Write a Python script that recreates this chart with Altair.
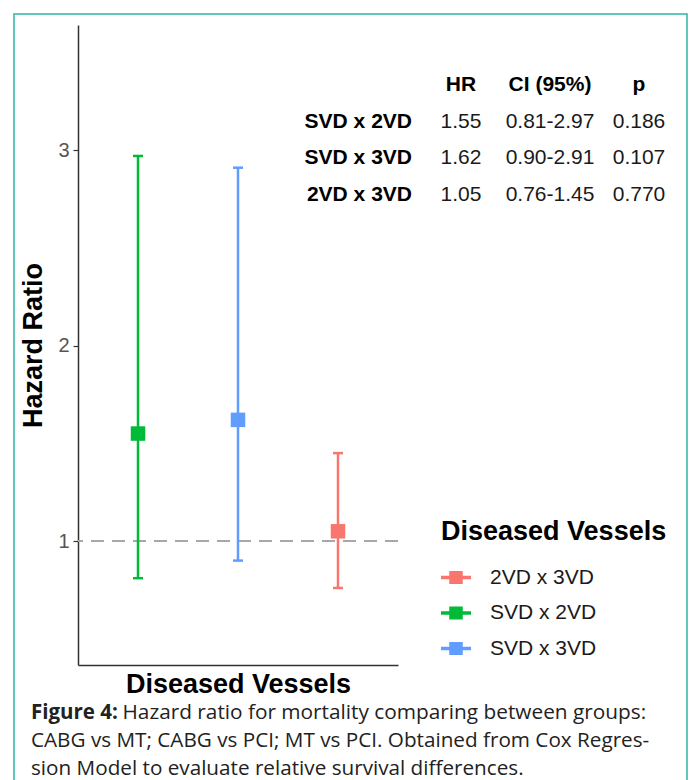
import altair as alt
import pandas as pd

# ---- data ----
comparisons = ["SVD x 2VD", "SVD x 3VD", "2VD x 3VD"]
hr = [1.55, 1.62, 1.05]
ci_low = [0.81, 0.90, 0.76]
ci_high = [2.97, 2.91, 1.45]
p_values = ["0.186", "0.107", "0.770"]
table_headers = ["HR", "CI (95%)", "p"]
legend_order = ["2VD x 3VD", "SVD x 2VD", "SVD x 3VD"]
legend_colors = ["#F8766D", "#00BA38", "#619CFF"]
caption_bold = "Figure 4:"
caption_lines = [
    "Hazard ratio for mortality comparing between groups:",
    "CABG vs MT; CABG vs PCI; MT vs PCI. Obtained from Cox Regres-",
    "sion Model to evaluate relative survival differences.",
]

FONT = "Liberation Sans"
CAP_FONT = "Open Sans"
TITLE_SIZE = 27

df = pd.DataFrame({"comp": comparisons, "hr": hr, "lo": ci_low, "hi": ci_high})

xenc = alt.X("comp:N", sort=comparisons,
             scale=alt.Scale(type="point", padding=0.6),
             axis=alt.Axis(title="Diseased Vessels", labels=False, ticks=False,
                           domainColor="#333333", domainWidth=1.5, grid=False,
                           titleFont=FONT, titleFontSize=TITLE_SIZE, titleFontWeight="bold",
                           titleColor="black", titlePadding=6))
yscale = alt.Scale(domain=[0.366, 3.64], nice=False, zero=False)
yenc = alt.Y("lo:Q", scale=yscale,
             axis=alt.Axis(title="Hazard Ratio", values=[1, 2, 3], format="d",
                           grid=False, domainColor="#333333", domainWidth=1.5,
                           tickColor="#333333", tickSize=5, tickWidth=1.2,
                           labelFont=FONT, labelFontSize=20, labelColor="#555555",
                           labelPadding=4,
                           titleFont=FONT, titleFontSize=TITLE_SIZE, titleFontWeight="bold",
                           titleColor="black", titlePadding=10))
color = alt.Color("comp:N",
                  scale=alt.Scale(domain=legend_order, range=legend_colors),
                  legend=alt.Legend(title="Diseased Vessels", orient="none",
                                    legendX=363, legendY=494,
                                    symbolType="M-1,-0.12H1V0.12H-1Z M-0.45,-0.43H0.45V0.43H-0.45Z",
                                    symbolSize=900, symbolStrokeWidth=0, symbolOpacity=1,
                                    labelFont=FONT, labelFontSize=21, labelColor="#1a1a1a",
                                    labelOffset=19, rowPadding=10.5, labelLimit=300,
                                    titleFont=FONT, titleFontSize=TITLE_SIZE,
                                    titleFontWeight="bold", titleLimit=400,
                                    titleColor="black", titlePadding=16.5))

base = alt.Chart(df)
hline = base.mark_rule(color="#A6A6A6", strokeDash=[13, 8], strokeWidth=1.5).encode(
    y=alt.datum(1, scale=yscale))
bars = base.mark_rule(strokeWidth=2.5).encode(x=xenc, y=yenc, y2="hi:Q", color=color)
cap_lo = base.mark_tick(size=10, thickness=2.5, opacity=1).encode(
    x=alt.X("comp:N", sort=comparisons), y=alt.Y("lo:Q"), color=alt.Color("comp:N"))
cap_hi = base.mark_tick(size=10, thickness=2.5, opacity=1).encode(
    x=alt.X("comp:N", sort=comparisons), y=alt.Y("hi:Q"), color=alt.Color("comp:N"))
pts = base.mark_square(size=210, opacity=1).encode(
    x=alt.X("comp:N", sort=comparisons), y=alt.Y("hr:Q"), color=alt.Color("comp:N"))

main = alt.layer(hline, bars, cap_lo, cap_hi, pts)

# ---- table ----
rows = []
for i, c in enumerate(comparisons):
    rows.append({"row": i + 1, "col": 1, "txt": f"{hr[i]:.2f}"})
    rows.append({"row": i + 1, "col": 2, "txt": f"{ci_low[i]:.2f}-{ci_high[i]:.2f}"})
    rows.append({"row": i + 1, "col": 3, "txt": p_values[i]})
tab_vals = pd.DataFrame(rows)
tab_heads = pd.DataFrame({"row": 0, "col": [1, 2, 3], "txt": table_headers})
tab_labels = pd.DataFrame({"row": [1, 2, 3], "txt": comparisons})

tx = alt.X("col:Q", scale=alt.Scale(domain=[1, 3], range=[383, 561]), axis=None)
ty = alt.Y("row:Q", scale=alt.Scale(domain=[0, 3], range=[60, 170]), axis=None)

t_vals = alt.Chart(tab_vals).mark_text(font=FONT, fontSize=21, color="#1a1a1a",
                                       align="center", baseline="middle").encode(
    x=tx, y=ty, text="txt:N")
t_heads = alt.Chart(tab_heads).mark_text(font=FONT, fontSize=21, fontWeight="bold",
                                         color="black", align="center",
                                         baseline="middle").encode(
    x=tx, y=ty, text="txt:N")
t_labels = alt.Chart(tab_labels).mark_text(font=FONT, fontSize=21, fontWeight="bold",
                                           color="black", align="right",
                                           baseline="middle").encode(
    x=alt.value(334), y=ty, text="txt:N")
table = alt.layer(t_vals, t_heads, t_labels)

# ---- caption and frame ----
cap_df = pd.DataFrame({"line": [0, 1, 2], "txt": caption_lines})
cy = alt.Y("line:Q", scale=alt.Scale(domain=[0, 2], range=[688, 744]), axis=None)
cap_first = alt.Chart(pd.DataFrame({"line": [0], "txt": [caption_bold]})).mark_text(
    font=CAP_FONT, fontSize=20.5, fontWeight="bold", color="#222222",
    align="left", baseline="middle").encode(x=alt.value(-47), y=cy, text="txt:N")
cap_rest0 = alt.Chart(cap_df[cap_df.line == 0]).mark_text(
    font=CAP_FONT, fontSize=20.8, color="#222222", align="left",
    baseline="middle").encode(x=alt.value(44.5), y=cy, text="txt:N")
cap_rest = alt.Chart(cap_df[cap_df.line > 0]).mark_text(
    font=CAP_FONT, fontSize=20.7, color="#222222", align="left",
    baseline="middle").encode(x=alt.value(-47), y=cy, text="txt:N")
frame = alt.Chart(pd.DataFrame({"f": [0]})).mark_rect(
    filled=False, stroke="#2CB5A6", strokeWidth=1.5).encode(
    x=alt.value(-64), x2=alt.value(609), y=alt.value(-11), y2=alt.value(800))
caption = alt.layer(cap_first, cap_rest0, cap_rest, frame)

chart = alt.layer(main, table, caption).resolve_scale(
    x="independent", y="independent").properties(
    width=320, height=640,
    background="white",
    autosize=alt.AutoSizeParams(type="none"),
    padding={"left": 70, "top": 17, "right": 290, "bottom": 115},
).configure_view(strokeWidth=0, stroke=None)

chart.save("out.html", embed_options={"renderer": "svg", "actions": False})
